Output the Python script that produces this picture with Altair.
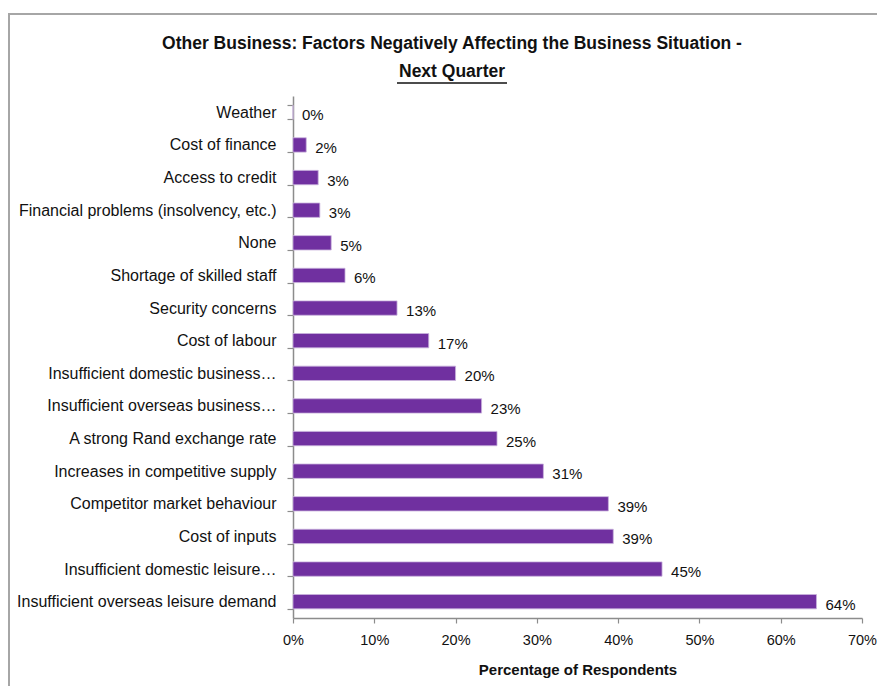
import altair as alt
import pandas as pd

factors = [
    "Weather",
    "Cost of finance",
    "Access to credit",
    "Financial problems (insolvency,  etc.)",
    "None",
    "Shortage of skilled staff",
    "Security concerns",
    "Cost of labour",
    "Insufficient domestic business…",
    "Insufficient overseas business…",
    "A strong Rand exchange rate",
    "Increases in competitive supply",
    "Competitor market behaviour",
    "Cost of inputs",
    "Insufficient domestic leisure…",
    "Insufficient overseas leisure demand",
]
shares = [0.0, 0.0163, 0.031, 0.033, 0.047, 0.064, 0.128, 0.167,
          0.200, 0.232, 0.251, 0.308, 0.388, 0.394, 0.454, 0.644]

title_line1 = "Other Business: Factors Negatively Affecting the Business Situation -"
title_line2 = "Next Quarter"
x_title = "Percentage of Respondents"

df = pd.DataFrame({"factor": factors, "share": shares})

FONT = "Liberation Sans, Arial"
PURPLE = "#7030A0"
AXIS_GREY = "#8c8c8c"

W, H = 569, 522

x_scale = alt.Scale(domain=[0, 0.7], nice=False)
y_scale = alt.Scale(paddingInner=0.56, paddingOuter=0.28)

bars = alt.Chart(df).mark_bar(color=PURPLE, stroke="#c9b3dd", strokeWidth=0.8).encode(
    x=alt.X("share:Q", scale=x_scale,
            axis=alt.Axis(format=".0%", values=[0, .1, .2, .3, .4, .5, .6, .7],
                          title=x_title, grid=False, domainColor=AXIS_GREY,
                          domainWidth=1.5, tickColor=AXIS_GREY, tickWidth=1.2,
                          tickSize=5, labelPadding=10, labelFontSize=14.5,
                          labelFlush=False,
                          labelFont=FONT, labelColor="#111111",
                          titleFont=FONT, titleFontSize=15, titleFontWeight="bold",
                          titleColor="#111111", titlePadding=16)),
    y=alt.Y("factor:N", sort=factors, scale=y_scale,
            axis=alt.Axis(title=None, tickBand="extent", domainColor=AXIS_GREY,
                          domainWidth=1.5, tickColor=AXIS_GREY, tickWidth=1.2,
                          tickSize=6, labelPadding=11, labelFontSize=16,
                          labelFont=FONT, labelColor="#111111", labelLimit=400)),
)

labels = alt.Chart(df).mark_text(align="left", baseline="middle", dx=9, dy=3,
                                 font=FONT, fontSize=15, color="#111111").encode(
    x=alt.X("share:Q", scale=x_scale),
    y=alt.Y("factor:N", sort=factors, scale=y_scale),
    text=alt.Text("share:Q", format=".0%"),
)

title_df = pd.DataFrame({"t1": [title_line1], "t2": [title_line2]})

t1 = alt.Chart(title_df).mark_text(font=FONT, fontSize=17.5, fontWeight="bold",
                                   align="center", baseline="middle",
                                   color="#111111").encode(
    x=alt.value(159), y=alt.value(-52), text="t1:N")
t2 = alt.Chart(title_df).mark_text(font=FONT, fontSize=17.5, fontWeight="bold",
                                   align="center", baseline="middle",
                                   color="#111111").encode(
    x=alt.value(159), y=alt.value(-24), text="t2:N")
underline = alt.Chart(title_df).mark_rule(color="#111111", strokeWidth=1.5).encode(
    x=alt.value(104), x2=alt.value(214), y=alt.value(-13))

frame_left = alt.Chart(title_df).mark_rule(color="#a6a6a6", strokeWidth=2).encode(
    x=alt.value(-284), y=alt.value(-82), y2=alt.value(700))
frame_top = alt.Chart(title_df).mark_rule(color="#a6a6a6", strokeWidth=2).encode(
    x=alt.value(-285), x2=alt.value(700), y=alt.value(-82))

chart = alt.layer(frame_left, frame_top, bars, labels, t1, t2, underline).properties(
    width=W, height=H,
    background="white",
    autosize=alt.AutoSizeParams(type="none"),
    padding={"left": 285, "top": 88, "right": 15, "bottom": 68},
).configure_view(strokeWidth=0, stroke="transparent")

chart.save("out.html", embed_options={"renderer": "svg", "actions": False})
